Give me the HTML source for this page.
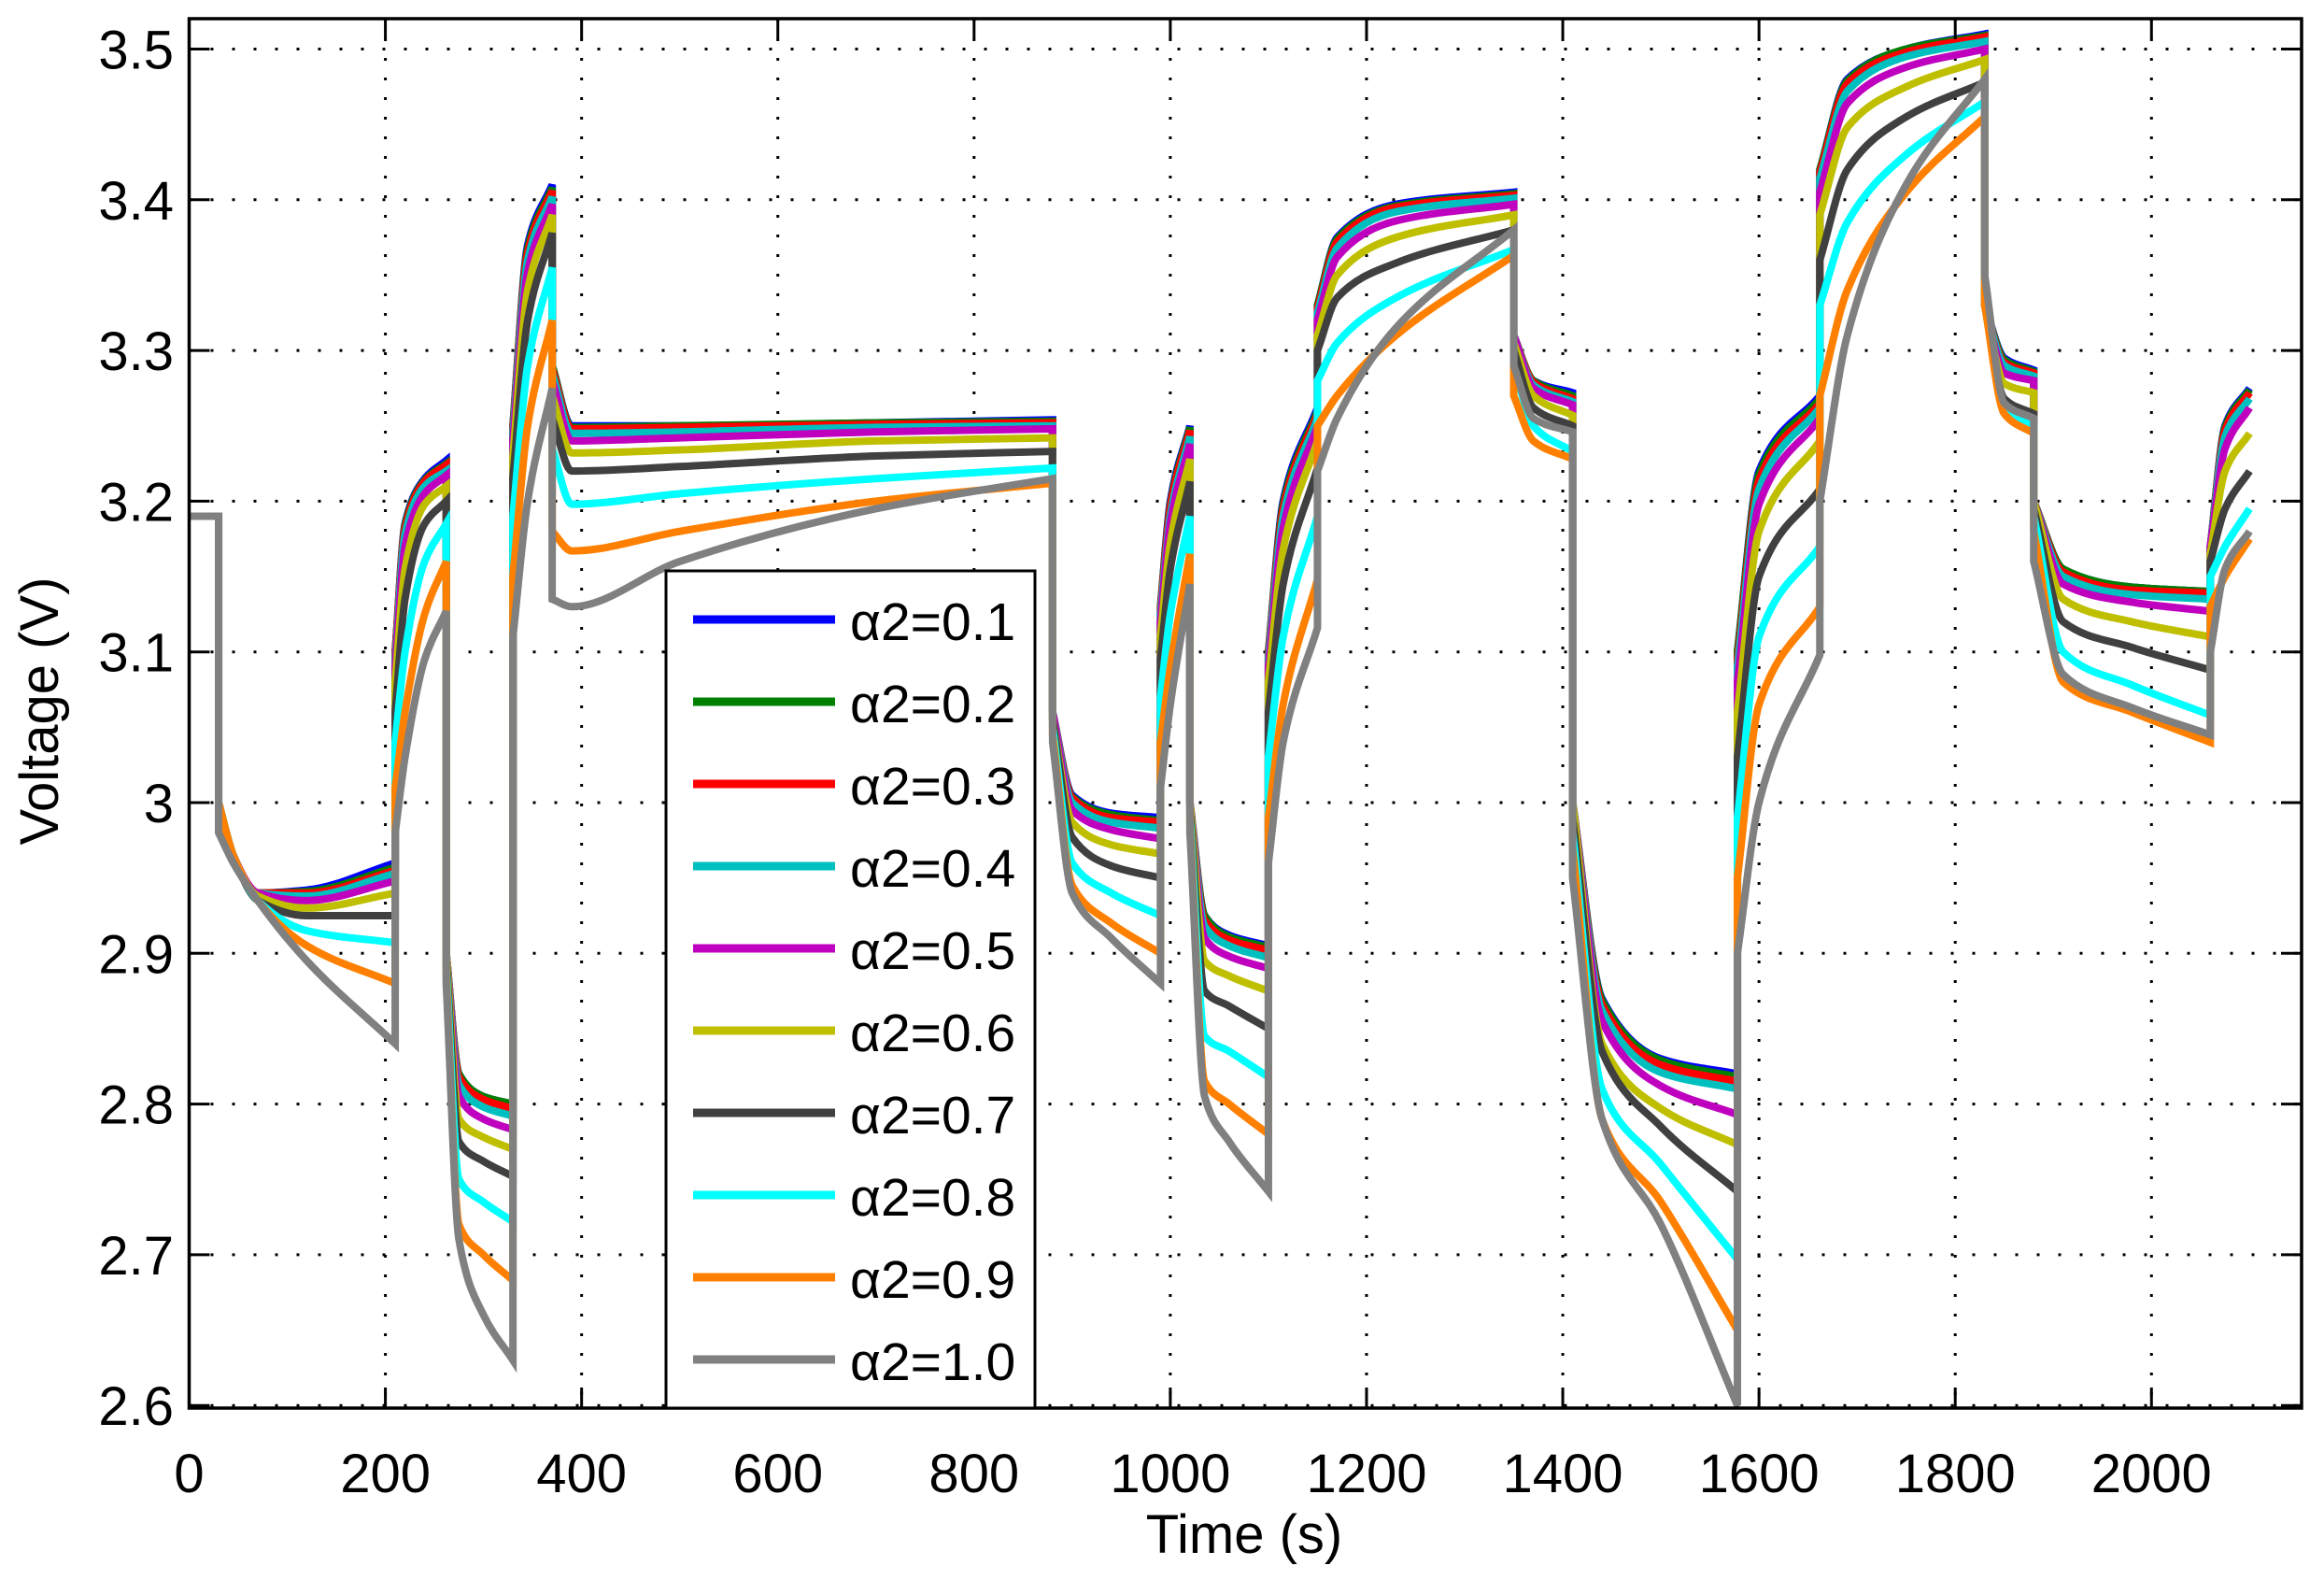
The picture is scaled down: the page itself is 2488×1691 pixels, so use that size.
<!DOCTYPE html>
<html><head><meta charset="utf-8"><style>
html,body{margin:0;padding:0;background:#fff;}
svg{display:block;font-family:"Liberation Sans",Arial,sans-serif;}
</style></head><body>
<svg id="chart" width="2488" height="1691" viewBox="0 0 2488 1691" xmlns="http://www.w3.org/2000/svg">
<rect x="0" y="0" width="2488" height="1691" fill="#fff"/>
<g id="grid"></g>
<g id="series"></g>
<g id="axes"></g>
<g id="legend"></g>
<text x="1332" y="1662" text-anchor="middle" font-size="58">Time (s)</text>
<text transform="translate(62,761) rotate(-90)" text-anchor="middle" font-size="58">Voltage (V)</text>
</svg>
<script>
const xTicks = [0,200,400,600,800,1000,1200,1400,1600,1800,2000];
const yTicks = [2.6,2.7,2.8,2.9,3.0,3.1,3.2,3.3,3.4,3.5];
const yTickLabels = ["2.6","2.7","2.8","2.9","3","3.1","3.2","3.3","3.4","3.5"];
const seriesNames = ["α2=0.1","α2=0.2","α2=0.3","α2=0.4","α2=0.5","α2=0.6","α2=0.7","α2=0.8","α2=0.9","α2=1.0"];
const seriesColors = ["#0000ff","#008000","#ff0000","#00bfbf","#bf00bf","#bfbf00","#404040","#00ffff","#ff8000","#808080"];
const times = [0,30,30,45,70,120,210,210,220,240,262,262,275,300,330,330,345,370,370,390,500,700,880,880,900,940,990,990,1000,1020,1020,1035,1060,1100,1100,1115,1150,1150,1170,1230,1350,1350,1370,1410,1410,1440,1500,1578,1578,1600,1662,1662,1690,1750,1830,1830,1850,1880,1880,1910,1980,2060,2060,2075,2100];
const v01 = [3.19,3.19,3.0,2.965,2.94,2.942,2.96,3.10,3.185,3.215,3.227,2.90,2.82,2.805,2.80,3.25,3.37,3.41,3.29,3.25,3.25,3.252,3.254,3.06,3.005,2.993,2.99,3.13,3.2,3.25,3.0,2.925,2.912,2.905,3.1,3.2,3.262,3.33,3.375,3.397,3.405,3.31,3.28,3.272,3.0,2.87,2.83,2.82,3.1,3.22,3.27,3.42,3.48,3.5,3.51,3.33,3.295,3.287,3.2,3.155,3.143,3.14,3.17,3.25,3.275];
const v02 = [3.19,3.19,3.0,2.965,2.94,2.941,2.957,3.10,3.184,3.214,3.225,2.90,2.82,2.805,2.80,3.25,3.368,3.408,3.29,3.249,3.25,3.252,3.253,3.06,3.004,2.992,2.988,3.13,3.198,3.249,3.0,2.925,2.911,2.904,3.1,3.198,3.26,3.33,3.374,3.396,3.404,3.31,3.28,3.27,3.0,2.869,2.829,2.818,3.1,3.218,3.268,3.42,3.479,3.5,3.509,3.33,3.294,3.286,3.2,3.155,3.143,3.14,3.17,3.249,3.274];
const v03 = [3.19,3.19,3.0,2.965,2.94,2.94,2.955,3.10,3.182,3.213,3.224,2.90,2.818,2.803,2.797,3.248,3.365,3.406,3.288,3.248,3.249,3.251,3.252,3.06,3.003,2.99,2.987,3.128,3.196,3.247,3.0,2.922,2.909,2.902,3.098,3.195,3.258,3.328,3.372,3.395,3.403,3.31,3.279,3.268,3.0,2.866,2.826,2.815,3.095,3.214,3.265,3.418,3.477,3.498,3.508,3.33,3.292,3.285,3.2,3.153,3.141,3.139,3.17,3.247,3.272];
const v04 = [3.19,3.19,3.0,2.965,2.94,2.938,2.953,3.095,3.178,3.21,3.22,2.90,2.813,2.798,2.792,3.245,3.36,3.402,3.285,3.245,3.246,3.249,3.25,3.06,3.0,2.987,2.983,3.125,3.19,3.243,3.0,2.918,2.905,2.897,3.095,3.19,3.255,3.325,3.368,3.392,3.401,3.31,3.277,3.266,3.0,2.862,2.821,2.81,3.09,3.208,3.262,3.414,3.472,3.495,3.505,3.33,3.29,3.283,3.2,3.15,3.138,3.135,3.17,3.243,3.268];
const v05 = [3.19,3.19,3.0,2.965,2.94,2.935,2.948,3.09,3.17,3.205,3.217,2.90,2.805,2.79,2.783,3.24,3.352,3.397,3.28,3.24,3.242,3.246,3.248,3.06,2.995,2.982,2.976,3.12,3.185,3.238,3.0,2.91,2.898,2.89,3.09,3.182,3.25,3.32,3.362,3.386,3.397,3.31,3.275,3.264,3.0,2.855,2.812,2.793,3.08,3.198,3.255,3.405,3.464,3.488,3.5,3.33,3.285,3.28,3.2,3.145,3.133,3.127,3.17,3.235,3.262];
const v06 = [3.19,3.19,3.0,2.965,2.938,2.93,2.94,3.08,3.155,3.198,3.21,2.90,2.79,2.778,2.77,3.23,3.34,3.39,3.27,3.232,3.234,3.24,3.242,3.055,2.987,2.972,2.966,3.11,3.172,3.228,3.0,2.895,2.885,2.875,3.08,3.168,3.24,3.31,3.35,3.375,3.39,3.305,3.27,3.257,3.0,2.84,2.797,2.773,3.06,3.18,3.24,3.39,3.448,3.475,3.493,3.33,3.278,3.272,3.2,3.135,3.12,3.11,3.165,3.22,3.245];
const v07 = [3.19,3.19,3.0,2.965,2.935,2.925,2.925,3.06,3.135,3.185,3.2,2.895,2.775,2.762,2.752,3.215,3.32,3.378,3.255,3.22,3.223,3.23,3.233,3.055,2.977,2.958,2.95,3.095,3.155,3.213,2.995,2.875,2.865,2.85,3.06,3.145,3.222,3.3,3.335,3.358,3.38,3.3,3.262,3.25,2.99,2.835,2.785,2.742,3.03,3.15,3.208,3.36,3.42,3.455,3.478,3.33,3.268,3.258,3.195,3.12,3.103,3.088,3.16,3.195,3.22];
const v08 = [3.19,3.19,3.0,2.965,2.935,2.915,2.907,3.04,3.10,3.16,3.185,2.89,2.75,2.735,2.722,3.19,3.29,3.355,3.235,3.198,3.205,3.215,3.222,3.05,2.96,2.94,2.925,3.07,3.125,3.19,2.99,2.845,2.835,2.818,3.03,3.11,3.19,3.28,3.305,3.335,3.367,3.29,3.25,3.233,2.98,2.81,2.76,2.697,2.99,3.11,3.17,3.33,3.385,3.43,3.465,3.33,3.262,3.25,3.19,3.10,3.078,3.058,3.15,3.17,3.195];
const v09 = [3.19,3.19,3.0,2.965,2.935,2.905,2.88,3.01,3.06,3.125,3.16,2.885,2.72,2.70,2.683,3.15,3.25,3.32,3.18,3.167,3.18,3.20,3.212,3.045,2.945,2.92,2.90,3.04,3.09,3.165,2.985,2.815,2.80,2.78,2.99,3.065,3.148,3.25,3.27,3.31,3.363,3.27,3.24,3.228,2.97,2.79,2.735,2.65,2.95,3.065,3.13,3.27,3.34,3.405,3.455,3.33,3.258,3.245,3.18,3.08,3.06,3.04,3.13,3.15,3.175];
const v10 = [3.19,3.19,2.98,2.96,2.935,2.895,2.84,2.98,3.03,3.095,3.127,2.88,2.71,2.66,2.63,3.11,3.20,3.275,3.135,3.13,3.16,3.195,3.215,3.04,2.94,2.91,2.88,3.01,3.065,3.145,2.98,2.805,2.775,2.742,2.96,3.04,3.116,3.22,3.255,3.315,3.38,3.29,3.255,3.246,2.95,2.79,2.72,2.60,2.90,3.0,3.098,3.20,3.31,3.41,3.48,3.35,3.265,3.255,3.16,3.085,3.063,3.045,3.10,3.155,3.18];
const seriesValues = [v01,v02,v03,v04,v05,v06,v07,v08,v09,v10];

const NS = "http://www.w3.org/2000/svg";
const X0 = 202.5, X1 = 2464, T0 = 0, T1 = 2153;
const Y0 = 20, Y1 = 1507, VTOP = 3.5 + 32.5/1613, VBOT = 3.5 - (1507-52.5)/1613;
function xs(t){ return X0 + (t - T0) / (T1 - T0) * (X1 - X0); }
function ys(v){ return Y0 + (VTOP - v) / (VTOP - VBOT) * (Y1 - Y0); }
function mk(tag, attrs, parent){
  const e = document.createElementNS(NS, tag);
  for (const k in attrs) e.setAttribute(k, attrs[k]);
  parent.appendChild(e);
  return e;
}
const grid = document.getElementById('grid');
const axes = document.getElementById('axes');
const sg = document.getElementById('series');
const lg = document.getElementById('legend');

xTicks.forEach(t => {
  if (t === 0) return;
  const l = mk('line', {x1: xs(t), x2: xs(t), y1: Y0, y2: Y1, stroke: '#000', 'stroke-width': 3, 'stroke-dasharray': '3 18'}, grid);
  
  
});
yTicks.forEach(v => {
  const l = mk('line', {x1: X0, x2: X1, y1: ys(v), y2: ys(v), stroke: '#000', 'stroke-width': 3, 'stroke-dasharray': '3 20'}, grid);
  
  
});

function segPath(pts){
  const n = pts.length;
  if (n === 1) return '';
  const dx = [], m = [], d = [];
  for (let i = 0; i < n-1; i++){ dx.push(pts[i+1][0]-pts[i][0]); d.push((pts[i+1][1]-pts[i][1])/dx[i]); }
  m[0] = d[0]; m[n-1] = d[n-2];
  for (let i = 1; i < n-1; i++){
    if (d[i-1]*d[i] <= 0) m[i] = 0;
    else { const w1 = 2*dx[i]+dx[i-1], w2 = dx[i]+2*dx[i-1]; m[i] = (w1+w2)/(w1/d[i-1]+w2/d[i]); }
  }
  let s = '';
  for (let i = 0; i < n-1; i++){
    const h = dx[i];
    s += ' C' + (pts[i][0]+h/3) + ',' + (pts[i][1]+m[i]*h/3) + ' ' + (pts[i+1][0]-h/3) + ',' + (pts[i+1][1]-m[i+1]*h/3) + ' ' + pts[i+1][0] + ',' + pts[i+1][1];
  }
  return s;
}
seriesValues.forEach((vals, si) => {
  let d = '';
  let seg = [];
  for (let i = 0; i < times.length; i++){
    const p = [xs(times[i]), ys(vals[i])];
    if (seg.length && times[i] === times[i-1]){
      d += segPath(seg);
      d += ' L' + p[0] + ',' + p[1];
      seg = [p];
    } else {
      if (!seg.length) d += 'M' + p[0] + ',' + p[1];
      seg.push(p);
    }
  }
  d += segPath(seg);
  const path = mk('path', {d: d, fill: 'none', stroke: seriesColors[si], 'stroke-width': 8, 'stroke-linejoin': 'miter'}, sg);
  
  
});

const box = mk('rect', {x: X0, y: Y0, width: X1-X0, height: Y1-Y0, fill: 'none', stroke: '#000', 'stroke-width': 3.5}, axes);


xTicks.forEach(t => {
  const x = xs(t);
  const a = mk('line', {x1: x, x2: x, y1: Y1, y2: Y1-22, stroke: '#000', 'stroke-width': 3}, axes);
  
  
  const b = mk('line', {x1: x, x2: x, y1: Y0, y2: Y0+22, stroke: '#000', 'stroke-width': 3}, axes);
  
  
  const tx = mk('text', {x: x, y: 1597, 'text-anchor': 'middle', 'font-size': 58}, axes);
  tx.textContent = String(t);
  
  
});
yTicks.forEach((v, i) => {
  const y = ys(v);
  const a = mk('line', {x1: X0, x2: X0+22, y1: y, y2: y, stroke: '#000', 'stroke-width': 3}, axes);
  
  
  const b = mk('line', {x1: X1, x2: X1-22, y1: y, y2: y, stroke: '#000', 'stroke-width': 3}, axes);
  
  
  const tx = mk('text', {x: 186, y: y+21, 'text-anchor': 'end', 'font-size': 58}, axes);
  tx.textContent = yTickLabels[i];
  
  
});

const lb = mk('rect', {x: 713, y: 611, width: 395, height: 896, fill: '#fff', stroke: '#000', 'stroke-width': 3}, lg);


seriesNames.forEach((name, i) => {
  const y = 663 + i*88;
  const g = mk('g', {}, lg);
  
  
  mk('line', {x1: 742, x2: 894, y1: y, y2: y, stroke: seriesColors[i], 'stroke-width': 9}, g);
  const t = mk('text', {x: 910, y: y+22, 'font-size': 57}, g);
  t.textContent = name;
});
</script>
</body></html>
